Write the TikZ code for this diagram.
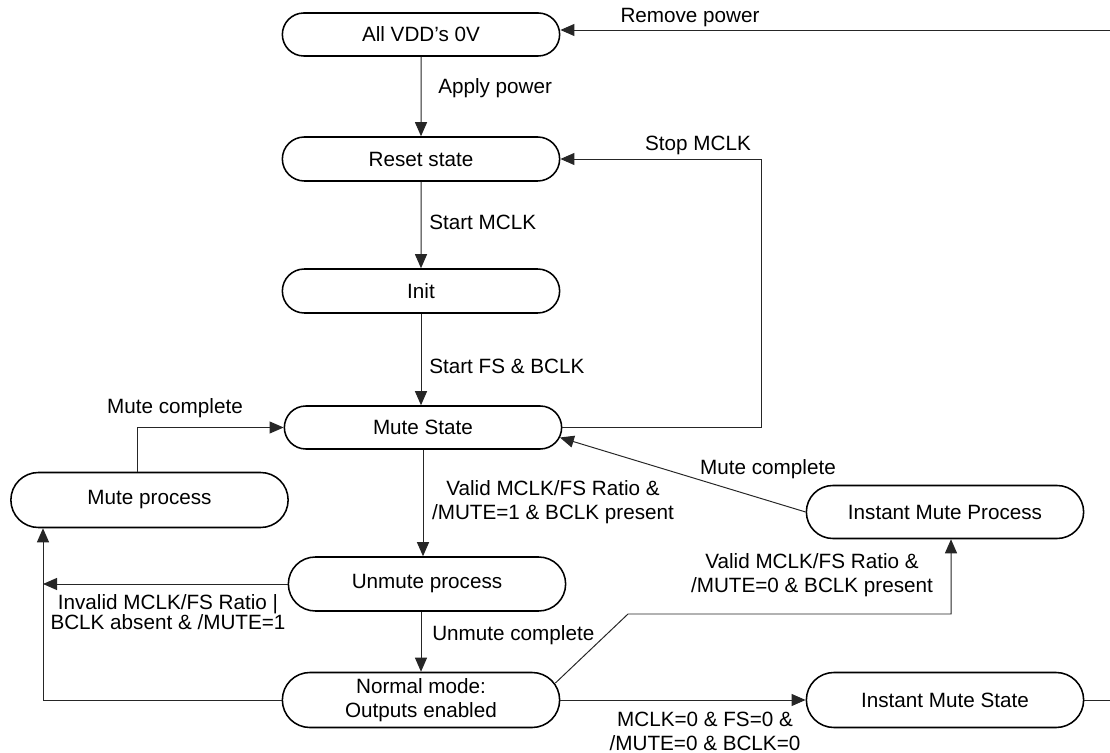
\documentclass[tikz,border=0pt]{standalone}
\usepackage{fontspec}
\setmainfont{Liberation Sans}
\usetikzlibrary{arrows.meta, shapes.misc}

\begin{document}
\begin{tikzpicture}[x=0.025cm, y=-0.025cm,
  font=\fontsize{14.7}{17}\selectfont,
  state/.style={draw, rounded rectangle, line width=1.1pt, minimum width=6.93cm, inner sep=0pt, align=center},
  lbl/.style={inner sep=0pt, align=center},
  flow/.style={-{Triangle[length=0.35cm, width=0.3cm]}, line width=0.7pt, draw=black!85}]
  \useasboundingbox (0,0) rectangle (1110,753);

  \node[state, minimum height=1.075cm] (vdd) at (421,34.5) {All VDD’s 0V};
  \node[state, minimum height=1.1cm] (reset) at (421,159) {Reset state};
  \node[state, minimum height=1.1cm] (init) at (421,291) {Init};
  \node[state, minimum height=1.075cm] (mute) at (423,427.5) {Mute State};
  \node[state, minimum height=1.375cm] (mproc) at (149.5,500) {Mute process};
  \node[state, minimum height=1.35cm] (unmute) at (427,584) {Unmute process};
  \node[state, minimum height=1.375cm] (normal) at (421,700) {Normal mode:\\Outputs enabled};
  \node[state, minimum height=1.325cm] (improc) at (945,512) {Instant Mute Process};
  \node[state, minimum height=1.375cm] (imstate) at (945,700) {Instant Mute State};

  \coordinate (rbot) at (1125,700);
  \coordinate (rtop) at (1125,30);
  \coordinate (stopc) at (761,159);
  \coordinate (mcx) at (137,0);
  \coordinate (lft) at (43,700);
  \coordinate (bend) at (628,614);
  \coordinate (upx) at (951,614);

  \draw[flow] (imstate.east) -- (rbot) -- (rtop) -- (rtop -| vdd.east);
  \draw[flow] (vdd) -- (reset);
  \draw[flow] (reset) -- (init);
  \draw[flow] (init.south) -- (init.south |- mute.north);
  \draw[flow] (mute.east) -| (stopc) -- (reset.east);
  \draw[flow] (mproc.north -| mcx) |- (mute.west);
  \draw[flow] (mute.south) -- (mute.south |- unmute.north);
  \draw[flow] (unmute.west) -- (unmute.west -| lft);
  \draw[flow] (normal.west) -- (lft) -- (lft |- mproc.south);
  \draw[flow] (unmute.south -| normal) -- (normal.north);
  \draw[flow] ([shift={(-5,-17)}]normal.east) -- (bend) -- (upx) -- (upx |- improc.south);
  \draw[flow] (improc.west) -- ([shift={(-2.5,10)}]mute.east);
  \draw[flow] (normal.east) -- (imstate.west);

  \node[lbl] (lremove) at (690,18) {Remove power};
  \node[lbl, anchor=west] (lapply) at (438,88) {Apply power};
  \node[lbl, anchor=west] (lstartm) at (429,222) {Start MCLK};
  \node[lbl, anchor=west] (lstartf) at (429,366) {Start FS \& BCLK};
  \node[lbl] (lstopm) at (698,145) {Stop MCLK};
  \node[lbl] (lmutel) at (175,408) {Mute complete};
  \node[lbl] (lvalid1) at (553,502) {Valid MCLK/FS Ratio \&\\/MUTE=1 \& BCLK present};
  \node[lbl, font=\fontsize{14.7}{13}\selectfont] (linvalid) at (168,612) {Invalid MCLK/FS Ratio |\\BCLK absent \& /MUTE=1};
  \node[lbl, anchor=west] (lunmute) at (432,635) {Unmute complete};
  \node[lbl] (lmuter) at (768,469) {Mute complete};
  \node[lbl] (lvalid0) at (812,575) {Valid MCLK/FS Ratio \&\\/MUTE=0 \& BCLK present};
  \node[lbl] (lzero) at (705,731) {MCLK=0 \& FS=0 \&\\/MUTE=0 \& BCLK=0};
\end{tikzpicture}
\end{document}
